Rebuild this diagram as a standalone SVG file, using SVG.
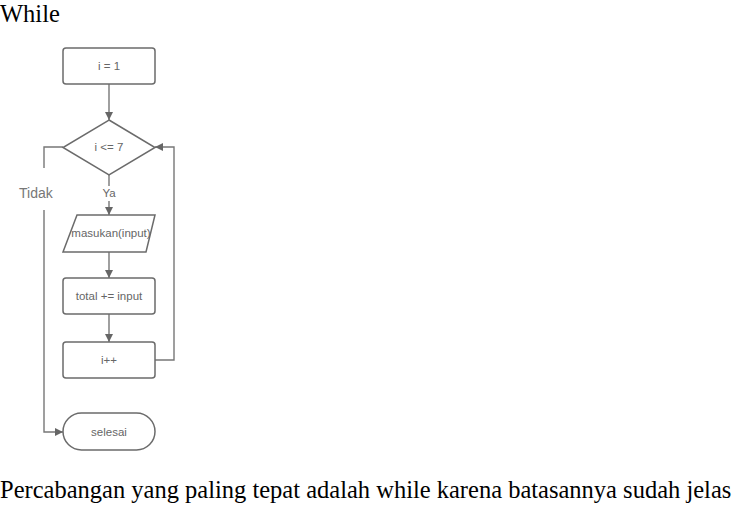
<svg xmlns="http://www.w3.org/2000/svg" width="733" height="510" viewBox="0 0 733 510">
<style>
.shape{fill:#fff;stroke:#6b6b6b;stroke-width:1.5}
.line{fill:none;stroke:#777;stroke-width:1.4}
.lbl{font-family:"Liberation Sans",Arial,sans-serif;font-size:11.5px;fill:#666;text-anchor:middle}
.doc{font-family:"Liberation Serif","Times New Roman",serif;font-size:24.5px;fill:#000}
</style>
<defs>
<marker id="ah" viewBox="0 0 10 10" refX="10" refY="5" markerWidth="8" markerHeight="8" markerUnits="userSpaceOnUse" orient="auto">
<path d="M0,0 L10,5 L0,10 z" fill="#666"/>
</marker>
</defs>
<rect width="733" height="510" fill="#fff"/>
<text class="doc" x="0" y="22">While</text>
<g id="connectors">
<line class="line" x1="109" y1="84" x2="109" y2="120" marker-end="url(#ah)"/>
<line class="line" x1="109" y1="175" x2="109" y2="186"/>
<line class="line" x1="109" y1="201" x2="109" y2="215" marker-end="url(#ah)"/>
<line class="line" x1="109" y1="252" x2="109" y2="278" marker-end="url(#ah)"/>
<line class="line" x1="109" y1="314" x2="109" y2="342" marker-end="url(#ah)"/>
<polyline class="line" points="155,360 174,360 174,147 155,147" marker-end="url(#ah)"/>
<polyline class="line" points="63,147 44,147 44,168"/>
<polyline class="line" points="44,210 44,432 63,432" marker-end="url(#ah)"/>
<text x="109" y="197" class="lbl">Ya</text>
<text x="19" y="198" style="font-family:'Liberation Sans',Arial,sans-serif;font-size:14px;fill:#777">Tidak</text>
</g>
<g id="n1">
<rect class="shape" x="63" y="48" width="92" height="36" rx="3"/>
<text class="lbl" x="109" y="70">i = 1</text>
</g>
<g id="n2">
<polygon class="shape" points="109,120 155,147.5 109,175 63,147.5"/>
<text class="lbl" x="109" y="151">i &lt;= 7</text>
</g>
<g id="n3">
<polygon class="shape" points="77,215 155,215 146,252 63,252"/>
<text class="lbl" x="111" y="237">masukan(input)</text>
</g>
<g id="n4">
<rect class="shape" x="63" y="278" width="92" height="36" rx="3"/>
<text class="lbl" x="109" y="300">total += input</text>
</g>
<g id="n5">
<rect class="shape" x="63" y="342" width="92" height="36" rx="3"/>
<text class="lbl" x="109" y="364">i++</text>
</g>
<g id="n6">
<rect class="shape" x="63" y="413" width="92" height="37" rx="18.5"/>
<text class="lbl" x="109" y="436">selesai</text>
</g>
<text class="doc" x="0" y="498">Percabangan yang paling tepat adalah while karena batasannya sudah jelas</text>
</svg>
